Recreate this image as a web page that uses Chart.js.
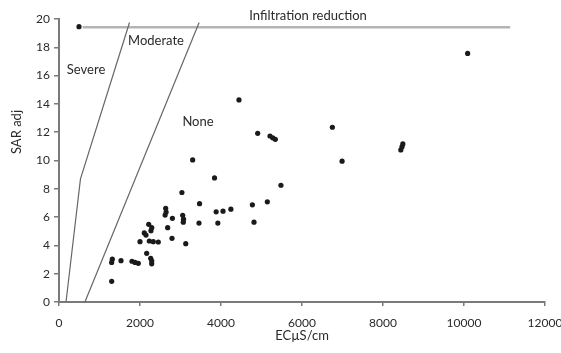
<!DOCTYPE html>
<html>
<head>
<meta charset="utf-8">
<script src="https://cdn.jsdelivr.net/npm/chart.js@4"></script>
<style>
  html, body { margin: 0; padding: 0; background: #fff; }
</style>
</head>
<body>
<canvas id="sarChart" width="561" height="353"></canvas>
<script>
// Sampel air: EC (µS/cm) dan SAR adj
const ecValues = [494, 1301, 1316, 1300, 1531, 1802, 1877, 1958, 2264, 2289, 2289, 2165, 2000,
  2230, 2328, 2452, 3130, 2790, 2106, 2148, 2215, 2290, 2270, 2683, 2634, 2645, 2620, 2800,
  3054, 3075, 3069, 3457, 3922, 4815, 3035, 3470, 3880, 4050, 4244, 4775, 5144, 3300, 3840,
  5480, 4444, 4906, 5210, 5277, 5341, 6750, 6990, 8440, 8470, 8490, 10090];
const sarValues = [19.46, 1.46, 3.03, 2.8, 2.92, 2.88, 2.8, 2.73, 3.09, 2.9, 2.7, 3.44, 4.26,
  4.31, 4.26, 4.24, 4.12, 4.5, 4.88, 4.73, 5.49, 5.25, 5.04, 5.25, 6.62, 6.36, 6.14, 5.91,
  6.13, 5.85, 5.64, 5.58, 5.58, 5.64, 7.74, 6.95, 6.37, 6.42, 6.56, 6.87, 7.08, 10.04, 8.77,
  8.25, 14.28, 11.92, 11.73, 11.6, 11.5, 12.35, 9.95, 10.75, 10.98, 11.17, 17.57];

// Garis batas zona
const severeEC = [173, 530, 1741];
const severeSAR = [0, 8.7, 19.75];
const moderateEC = [640, 3460];
const moderateSAR = [0, 19.75];
const infiltrationEC = [585, 11140];
const infiltrationSAR = [19.42, 19.42];

// Label zona
const zoneLabels = ['Infiltration reduction', 'Severe', 'Moderate', 'None'];
const zoneLabelEC = [6150, 667, 2395, 3432];
const zoneLabelSAR = [20.2, 16.4, 18.45, 12.7];

const xTicks = [0, 2000, 4000, 6000, 8000, 10000, 12000];
const yTicks = [0, 2, 4, 6, 8, 10, 12, 14, 16, 18, 20];

const toPoints = (xs, ys) => xs.map((x, i) => ({ x: x, y: ys[i] }));

// Plugin untuk teks zona dan judul sumbu Y
const zoneTextPlugin = {
  id: 'zoneText',
  afterDraw(chart) {
    const ctx = chart.ctx;
    const xs = chart.scales.x, ys = chart.scales.y;
    ctx.save();
    ctx.fillStyle = '#2a2a2a';
    ctx.font = '13px Lato';
    ctx.textAlign = 'center';
    ctx.textBaseline = 'middle';
    zoneLabels.forEach((t, i) => {
      ctx.fillText(t, xs.getPixelForValue(zoneLabelEC[i]), ys.getPixelForValue(zoneLabelSAR[i]));
    });
    // judul sumbu Y
    ctx.translate(17, 132);
    ctx.rotate(-Math.PI / 2);
    ctx.fillText('SAR adj', 0, 0);
    ctx.restore();
  }
};

const ctx = document.getElementById('sarChart').getContext('2d');
new Chart(ctx, {
  type: 'scatter',
  data: {
    datasets: [
      {
        label: 'Samples',
        data: toPoints(ecValues, sarValues),
        backgroundColor: '#1a1a1a',
        borderColor: '#1a1a1a',
        pointRadius: 2.6,
        borderWidth: 0
      },
      {
        label: 'Severe',
        type: 'line',
        data: toPoints(severeEC, severeSAR),
        borderColor: '#666',
        borderWidth: 1.2,
        pointRadius: 0,
        tension: 0,
        clip: false
      },
      {
        label: 'Moderate',
        type: 'line',
        data: toPoints(moderateEC, moderateSAR),
        borderColor: '#666',
        borderWidth: 1.2,
        pointRadius: 0,
        tension: 0,
        clip: false
      },
      {
        label: 'Infiltration',
        type: 'line',
        data: toPoints(infiltrationEC, infiltrationSAR),
        borderColor: '#b4b4b4',
        borderWidth: 2.5,
        pointRadius: 0,
        tension: 0,
        clip: false
      }
    ]
  },
  options: {
    responsive: false,
    animation: false,
    layout: { padding: { top: 19, right: 16, left: 0, bottom: 0 } },
    plugins: {
      legend: { display: false },
      tooltip: { enabled: false }
    },
    scales: {
      x: {
        type: 'linear',
        min: 0,
        max: 12000,
        afterBuildTicks: (s) => { s.ticks = xTicks.map(v => ({ value: v })); },
        afterFit: (s) => { s.height = 51; s.paddingLeft = 0; s.paddingRight = 0; },
        border: { color: '#7a7a7a', width: 2 },
        grid: { display: true, drawOnChartArea: false, drawTicks: true, tickLength: 4, color: '#7a7a7a', lineWidth: 1.5 },
        ticks: {
          color: '#2a2a2a',
          font: { family: 'Lato', size: 12 },
          padding: 10,
          maxRotation: 0,
          callback: (v) => String(v)
        },
        title: {
          display: true,
          text: 'ECµS/cm',
          color: '#2a2a2a',
          font: { family: 'Lato', size: 13 },
          padding: { top: 0, bottom: 9 }
        }
      },
      y: {
        type: 'linear',
        min: 0,
        max: 20,
        afterBuildTicks: (s) => { s.ticks = yTicks.map(v => ({ value: v })); },
        afterFit: (s) => { s.width = 59; s.paddingTop = 0; s.paddingBottom = 0; },
        border: { color: '#7a7a7a', width: 2 },
        grid: { display: true, drawOnChartArea: false, drawTicks: true, tickLength: 5, color: '#7a7a7a', lineWidth: 1.5 },
        ticks: { color: '#2a2a2a', font: { family: 'Lato', size: 12 }, padding: 4, callback: (v) => String(v) }
      }
    }
  },
  plugins: [zoneTextPlugin]
});
</script>
</body>
</html>
